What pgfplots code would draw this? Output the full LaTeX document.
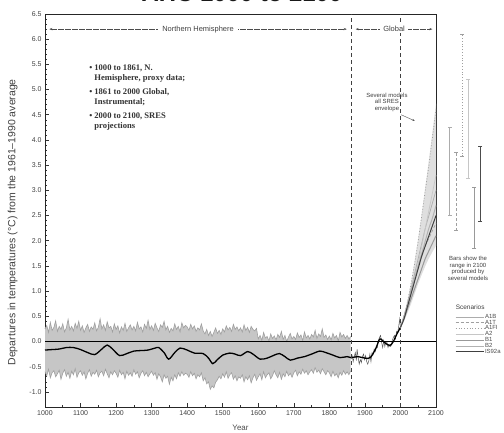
\documentclass[border=0pt]{standalone}
\usepackage{pgfplots}
\pgfplotsset{compat=1.18}
\usepackage{pgfplotstable}
\usepgfplotslibrary{fillbetween}
\usetikzlibrary{arrows.meta}
\usepackage{fontspec}
\setmainfont{Liberation Sans}
\newfontfamily\serifb{Liberation Serif}

\pgfplotstableread{
x up lo
1000 0.25 -0.60
1005 0.32 -0.68
1010 0.18 -0.55
1015 0.38 -0.72
1020 0.22 -0.62
1025 0.28 -0.58
1030 0.41 -0.70
1035 0.20 -0.64
1040 0.30 -0.57
1045 0.24 -0.75
1050 0.35 -0.63
1055 0.19 -0.56
1060 0.27 -0.69
1065 0.44 -0.61
1070 0.23 -0.73
1075 0.30 -0.59
1080 0.21 -0.66
1085 0.36 -0.54
1090 0.26 -0.71
1095 0.40 -0.62
1100 0.22 -0.58
1105 0.31 -0.67
1110 0.18 -0.60
1115 0.27 -0.74
1120 0.34 -0.63
1125 0.20 -0.56
1130 0.29 -0.69
1135 0.24 -0.61
1140 0.37 -0.65
1145 0.21 -0.57
1150 0.28 -0.70
1155 0.45 -0.62
1160 0.25 -0.59
1165 0.33 -0.68
1170 0.22 -0.55
1175 0.39 -0.64
1180 0.27 -0.72
1185 0.30 -0.60
1190 0.19 -0.66
1195 0.35 -0.58
1200 0.24 -0.63
1205 0.31 -0.71
1210 0.17 -0.57
1215 0.29 -0.66
1220 0.22 -0.61
1225 0.36 -0.74
1230 0.20 -0.59
1235 0.27 -0.67
1240 0.33 -0.62
1245 0.23 -0.69
1250 0.30 -0.56
1255 0.21 -0.65
1260 0.38 -0.60
1265 0.25 -0.72
1270 0.29 -0.63
1275 0.19 -0.58
1280 0.34 -0.68
1285 0.26 -0.61
1290 0.42 -0.70
1295 0.24 -0.64
1300 0.31 -0.59
1305 0.22 -0.67
1310 0.36 -0.62
1315 0.27 -0.75
1320 0.20 -0.64
1325 0.33 -0.70
1330 0.28 -0.80
1335 0.40 -0.66
1340 0.23 -0.73
1345 0.30 -0.69
1350 0.18 -0.85
1355 0.26 -0.71
1360 0.21 -0.78
1365 0.35 -0.66
1370 0.24 -0.74
1375 0.30 -0.62
1380 0.19 -0.69
1385 0.37 -0.60
1390 0.27 -0.67
1395 0.32 -0.63
1400 0.29 -0.65
1405 0.22 -0.71
1410 0.34 -0.60
1415 0.25 -0.68
1420 0.31 -0.63
1425 0.20 -0.74
1430 0.27 -0.66
1435 0.23 -0.70
1440 0.35 -0.62
1445 0.21 -0.78
1450 0.15 -0.72
1455 0.24 -0.84
1460 0.12 -0.80
1465 0.20 -0.95
1470 0.10 -0.88
1475 0.18 -0.92
1480 0.27 -0.81
1485 0.16 -0.76
1490 0.22 -0.69
1495 0.14 -0.74
1500 0.25 -0.64
1505 0.19 -0.71
1510 0.31 -0.60
1515 0.23 -0.73
1520 0.28 -0.66
1525 0.20 -0.62
1530 0.34 -0.75
1535 0.24 -0.68
1540 0.29 -0.78
1545 0.21 -0.70
1550 0.27 -0.73
1555 0.19 -0.66
1560 0.33 -0.80
1565 0.22 -0.70
1570 0.28 -0.76
1575 0.18 -0.68
1580 0.30 -0.82
1585 0.24 -0.72
1590 0.21 -0.65
1595 0.26 -0.77
1600 0.05 -0.70
1605 0.12 -0.64
1610 0.02 -0.76
1615 0.18 -0.60
1620 0.07 -0.72
1625 0.10 -0.66
1630 0.01 -0.62
1635 0.15 -0.74
1640 0.06 -0.68
1645 0.11 -0.58
1650 0.03 -0.66
1655 0.14 -0.72
1660 0.08 -0.61
1665 0.20 -0.75
1670 0.04 -0.64
1675 0.12 -0.70
1680 0.00 -0.59
1685 0.09 -0.68
1690 0.16 -0.63
1695 0.05 -0.71
1700 0.10 -0.62
1705 0.04 -0.57
1710 0.17 -0.68
1715 0.08 -0.60
1720 0.13 -0.65
1725 0.02 -0.55
1730 0.19 -0.63
1735 0.07 -0.58
1740 0.12 -0.66
1745 0.05 -0.60
1750 0.14 -0.56
1755 0.09 -0.63
1760 0.22 -0.52
1765 0.06 -0.61
1770 0.15 -0.57
1775 0.10 -0.64
1780 0.25 -0.54
1785 0.08 -0.60
1790 0.13 -0.66
1795 0.04 -0.58
1800 0.11 -0.62
1805 0.03 -0.70
1810 0.16 -0.59
1815 0.07 -0.68
1820 0.12 -0.64
1825 0.01 -0.72
1830 0.18 -0.61
1835 0.09 -0.67
1840 0.14 -0.58
1845 0.06 -0.65
1850 0.12 -0.60
1855 0.05 -0.66
1860 0.10 -0.58
}\proxyband

\begin{document}
\begin{tikzpicture}
\begin{axis}[
  scale only axis, width=391bp, height=393bp,
  at={(0,0)}, anchor=south west,
  xmin=1000, xmax=2100, ymin=-1.3, ymax=6.5,
  xtick={1000,1100,1200,1300,1400,1500,1600,1700,1800,1900,2000,2100},
  ytick={-1,-0.5,0,0.5,1,1.5,2,2.5,3,3.5,4,4.5,5,5.5,6,6.5},
  minor x tick num=1, minor y tick num=4,
  xtick pos=bottom, ytick pos=left, tick align=inside,
  major tick length=4bp, minor tick length=2bp,
  tick style={black!80, line width=0.6pt},
  axis line style={black!85, line width=0.8pt},
  clip=false,
  xticklabel style={font=\fontsize{7}{7}\selectfont, text=black!75, /pgf/number format/assume math mode=true, /pgf/number format/1000 sep={}},
  yticklabel style={font=\fontsize{7}{7}\selectfont, text=black!75, /pgf/number format/assume math mode=true, /pgf/number format/fixed, /pgf/number format/fixed zerofill, /pgf/number format/precision=1},
  xlabel={Year},
  xlabel style={font=\fontsize{8}{8}\selectfont, text=black!70, at={(axis description cs:0.5,-0.053)}, anchor=center},
  ylabel={Departures in temperatures (°C) from the 1961–1990 average},
  ylabel style={font=\fontsize{10.5}{10.5}\selectfont, text=black!75, at={(axis description cs:-0.083,0.47)}, anchor=center},
  legend style={at={(axis description cs:1.041,0.244)}, anchor=north west, draw=none, fill=none,
    font=\fontsize{6}{6}\selectfont, text=black!70, row sep=-1.4pt, nodes={inner sep=0.8pt}},
  legend cell align=left,
  legend image code/.code={\draw[#1] (0bp,0bp) -- (28bp,0bp);},
]
% proxy band
\addplot[name path=up, draw=gray!75, line width=0.6pt, forget plot] table[x=x, y=up] {\proxyband};
\addplot[name path=lo, draw=gray!75, line width=0.6pt, forget plot] table[x=x, y=lo] {\proxyband};
\addplot[fill=gray!45, draw=none, forget plot] fill between[of=up and lo];

% instrumental jagged
\addplot[black!65, line width=0.5pt, forget plot] coordinates {
(1861,-0.35) (1864,-0.28) (1867,-0.40) (1870,-0.30) (1873,-0.22) (1876,-0.38) (1878,-0.15) (1881,-0.32) (1884,-0.45) (1887,-0.36) (1890,-0.42) (1893,-0.30) (1896,-0.25) (1899,-0.36) (1902,-0.28) (1905,-0.40) (1908,-0.45) (1911,-0.38) (1914,-0.25) (1917,-0.40) (1920,-0.22) (1923,-0.26) (1926,-0.15) (1929,-0.20) (1932,-0.10) (1935,-0.12) (1938,0.02) (1941,0.08) (1944,0.12) (1947,-0.02) (1950,-0.12) (1953,0.02) (1956,-0.10) (1959,0.00) (1962,-0.02) (1965,-0.12) (1968,-0.06) (1971,-0.10) (1974,-0.08) (1977,0.02) (1980,0.08) (1983,0.12) (1986,0.05) (1989,0.20) (1992,0.16) (1995,0.30) (1998,0.45) (2000,0.28)};

% projection envelope
\addplot[fill=gray!25, draw=none, forget plot] coordinates {
(2000,0.28) (2010,0.52) (2020,0.82) (2030,1.18) (2040,1.6) (2050,2.05) (2060,2.55) (2070,3.07) (2080,3.6) (2090,4.15) (2100,4.72)
(2100,1.9) (2090,1.78) (2080,1.65) (2070,1.5) (2060,1.33) (2050,1.15) (2040,0.95) (2030,0.75) (2020,0.57) (2010,0.4) (2000,0.28)} -- cycle;

% zero line
\addplot[black, line width=0.7pt, forget plot] coordinates {(1000,0) (2100,0)};

% smoothed black curve
\addplot[black, line width=1.3pt, smooth, forget plot] coordinates {
(1000,-0.17) (1020,-0.16) (1040,-0.15) (1060,-0.12) (1080,-0.12) (1100,-0.16) (1120,-0.22) (1140,-0.26) (1160,-0.15) (1175,-0.07) (1190,-0.15) (1210,-0.28) (1230,-0.24) (1250,-0.19) (1270,-0.18) (1290,-0.17) (1310,-0.13) (1320,-0.12) (1335,-0.22) (1348,-0.35) (1365,-0.22) (1380,-0.13) (1400,-0.17) (1420,-0.23) (1445,-0.24) (1460,-0.33) (1472,-0.44) (1485,-0.36) (1500,-0.27) (1520,-0.23) (1535,-0.25) (1550,-0.28) (1570,-0.20) (1585,-0.25) (1605,-0.35) (1625,-0.33) (1645,-0.27) (1660,-0.24) (1675,-0.30) (1690,-0.37) (1710,-0.33) (1730,-0.30) (1750,-0.25) (1773,-0.19) (1790,-0.22) (1810,-0.27) (1830,-0.32) (1850,-0.30) (1861,-0.32) (1880,-0.30) (1900,-0.33) (1915,-0.32) (1930,-0.15) (1942,0.05) (1955,-0.02) (1970,-0.08) (1980,0.0) (1990,0.15) (2000,0.28)};

% dashed verticals
\addplot[black!75, line width=0.7pt, dash pattern=on 4bp off 3bp, forget plot] coordinates {(1861,-1.3) (1861,6.5)};
\addplot[black!75, line width=0.7pt, dash pattern=on 4bp off 3bp, forget plot] coordinates {(2000,-1.3) (2000,6.5)};

% scenario projections
\addplot[gray!65, line width=0.7pt, smooth] coordinates {(2000,0.28) (2010,0.5) (2020,0.75) (2030,1.05) (2040,1.35) (2050,1.65) (2060,1.95) (2070,2.25) (2080,2.5) (2090,2.75) (2100,3.0)};
\addlegendentry{A1B}
\addplot[gray!75, line width=0.7pt, dash pattern=on 3bp off 2bp, smooth] coordinates {(2000,0.28) (2010,0.5) (2020,0.75) (2030,1.0) (2040,1.25) (2050,1.5) (2060,1.7) (2070,1.9) (2080,2.05) (2090,2.2) (2100,2.35)};
\addlegendentry{A1T}
\addplot[gray!75, line width=0.8pt, dotted, smooth] coordinates {(2000,0.28) (2010,0.5) (2020,0.8) (2030,1.15) (2040,1.55) (2050,2.0) (2060,2.5) (2070,3.0) (2080,3.5) (2090,4.05) (2100,4.6)};
\addlegendentry{A1FI}
\addplot[gray!45, line width=0.7pt, smooth] coordinates {(2000,0.28) (2010,0.45) (2020,0.7) (2030,0.95) (2040,1.25) (2050,1.55) (2060,1.9) (2070,2.25) (2080,2.6) (2090,2.95) (2100,3.3)};
\addlegendentry{A2}
\addplot[gray!80, line width=1pt, smooth] coordinates {(2000,0.28) (2010,0.45) (2020,0.65) (2030,0.85) (2040,1.05) (2050,1.25) (2060,1.45) (2070,1.65) (2080,1.8) (2090,1.95) (2100,2.1)};
\addlegendentry{B1}
\addplot[gray!60, line width=1pt, smooth] coordinates {(2000,0.28) (2010,0.5) (2020,0.75) (2030,1.0) (2040,1.25) (2050,1.5) (2060,1.75) (2070,2.0) (2080,2.25) (2090,2.45) (2100,2.7)};
\addlegendentry{B2}
\addplot[black!75, line width=1pt, smooth] coordinates {(2000,0.28) (2010,0.45) (2020,0.7) (2030,0.95) (2040,1.2) (2050,1.45) (2060,1.7) (2070,1.9) (2080,2.1) (2090,2.3) (2100,2.5)};
\addlegendentry{IS92a}

% range bars in 2100
\addplot[gray!65, line width=0.8pt, mark=-, mark size=2bp, forget plot] coordinates {(2139,2.51) (2139,4.24)};
\addplot[gray!75, line width=0.8pt, dash pattern=on 3bp off 2bp, mark=-, mark size=2bp, mark options={solid}, forget plot] coordinates {(2156,2.2) (2156,3.76)};
\addplot[gray!75, line width=0.8pt, dotted, mark=-, mark size=2bp, mark options={solid}, forget plot] coordinates {(2173,3.68) (2173,6.1)};
\addplot[gray!45, line width=0.8pt, mark=-, mark size=2bp, forget plot] coordinates {(2190,3.23) (2190,5.2)};
\addplot[gray!80, line width=0.8pt, mark=-, mark size=2bp, forget plot] coordinates {(2207,1.84) (2207,3.05)};
\addplot[black!70, line width=0.8pt, mark=-, mark size=2bp, forget plot] coordinates {(2224,2.38) (2224,3.88)};

% arrows
\draw[black!70, line width=0.5pt, dash pattern=on 6bp off 1bp, {Stealth[length=3bp]}-{Stealth[length=3bp]}] (axis cs:1012,6.2) -- (axis cs:1849,6.2)
  node[midway, fill=white, inner xsep=4bp, inner ysep=1bp, font=\fontsize{7.5}{7.5}\selectfont, text=black!75] {Northern Hemisphere};
\draw[black!70, line width=0.5pt, dash pattern=on 6bp off 1bp, {Stealth[length=3bp]}-{Stealth[length=3bp]}] (axis cs:1874,6.2) -- (axis cs:2090,6.2)
  node[midway, fill=white, inner xsep=3bp, inner ysep=1bp, font=\fontsize{7.5}{7.5}\selectfont, text=black!75] {Global};

% annotations
\node[anchor=north west, inner sep=0pt, align=left, font=\serifb\bfseries\fontsize{8.6}{10}\selectfont, text=black!80] at (axis cs:1124,5.5)
  {\textbullet\ 1000 to 1861, N.\\\phantom{\textbullet\ }Hemisphere, proxy data;\\[4bp]
   \textbullet\ 1861 to 2000 Global,\\\phantom{\textbullet\ }Instrumental;\\[4bp]
   \textbullet\ 2000 to 2100, SRES\\\phantom{\textbullet\ }projections};
\node[align=center, font=\fontsize{6}{6.5}\selectfont, text=black!75, inner sep=0pt] at (axis cs:1962,4.75) {Several models\\all SRES\\envelope};
\draw[-{Stealth[length=2.5bp]}, black!70, line width=0.4pt] (axis cs:2002,4.5) -- (axis cs:2040,4.38);
\node[align=center, font=\fontsize{6}{6.5}\selectfont, text=black!75, inner sep=0pt] at (axis cs:2190,1.45) {Bars show the\\range in 2100\\produced by\\several models};
\node[anchor=west, font=\fontsize{6.5}{6.5}\selectfont, text=black!75, inner sep=0pt] at (axis cs:2155,0.69) {Scenarios};
\end{axis}
\node[anchor=base, font=\bfseries\fontsize{24}{24}\selectfont, text=black!90] at (197bp,405bp) {AHC 1000 to 2100};
\pgfresetboundingbox
\path[use as bounding box] (-45bp,-26bp) rectangle (459bp,407bp);
\end{tikzpicture}
\end{document}
